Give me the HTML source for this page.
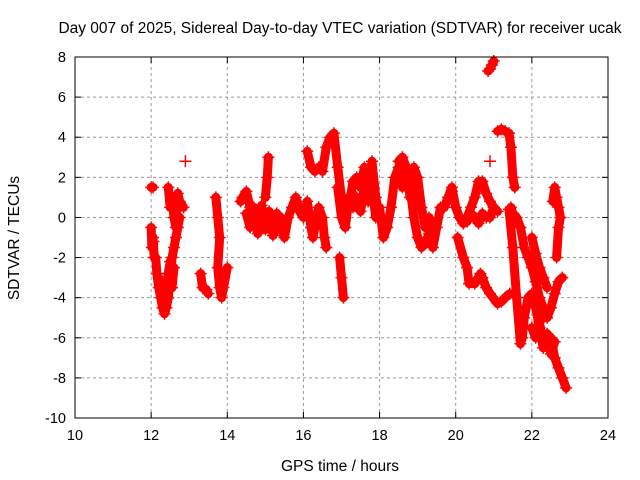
<!DOCTYPE html>
<html><head><meta charset="utf-8"><style>
body{margin:0;background:#fff;}
svg{display:block;font-family:"Liberation Sans",sans-serif;}
</style></head><body>
<svg id="chart" width="640" height="480">
<rect width="640" height="480" fill="#fff"/>
<text x="340" y="33" text-anchor="middle" font-size="15.5">Day 007 of 2025, Sidereal Day-to-day VTEC variation (SDTVAR) for receiver ucak</text>
<text x="340" y="471" text-anchor="middle" font-size="15.5">GPS time / hours</text>
<text transform="translate(19,238) rotate(-90)" text-anchor="middle" font-size="15.5">SDTVAR / TECUs</text>
<g id="grid"></g><g id="ticks"></g><g id="marks"></g>
<rect x="75" y="57" width="533" height="361" fill="none" stroke="#000"/>
</svg>
<script>
const xTicks=[10,12,14,16,18,20,22,24];
const yTicks=[-10,-8,-6,-4,-2,0,2,4,6,8];
// tracks: times and values
const t1=[12.0,12.02,12.05,12.08,12.06];
const v1=[-0.5,-1.5,-1.0,-2.0,-1.2];
const t1b=[12.0,12.05];
const v1b=[1.5,1.5];
const t2=[12.12,12.15,12.2,12.25,12.3,12.35,12.4,12.45,12.5,12.55,12.6,12.65,12.7,12.75];
const v2=[-2.0,-2.8,-3.5,-4.0,-4.5,-4.8,-4.5,-4.0,-3.0,-2.0,-1.5,-1.0,-0.5,0.0];
const t2c=[12.2,12.25,12.3,12.35,12.4,12.45,12.5,12.55,12.6];
const v2c=[-3.0,-3.3,-3.8,-4.2,-3.5,-2.8,-2.2,-3.5,-2.5];
const t2b=[12.45,12.5,12.55,12.6,12.65,12.7,12.75,12.85];
const v2b=[1.5,0.5,1.0,0.0,-0.5,1.2,0.8,0.5];
const t3=[13.3,13.35,13.45,13.5];
const v3=[-2.8,-3.5,-3.6,-3.8];
const t4=[13.7,13.75,13.8,13.75,13.8,13.85,13.9,14.0];
const v4=[1.0,0.0,-1.0,-2.5,-3.5,-4.0,-3.5,-2.5];
const t5=[14.35,14.4,14.5,14.6,14.7,14.8,14.9,15.0,15.1,15.2,15.3,15.4,15.5,15.6,15.7,15.8,15.9,16.0,16.1,16.2,16.25,16.3,16.4,16.5,16.55,16.6];
const v5=[0.8,1.0,1.3,0.5,-0.3,0.0,-0.5,0.0,-0.5,-0.3,0.2,-0.5,-1.0,0.0,0.5,1.0,0.3,0.0,0.8,-0.5,-1.0,-0.5,0.5,0.0,-1.0,-1.5];
const t5c=[14.5,14.6,14.7,14.8,14.9,15.0,15.1,15.2,15.3,15.4];
const v5c=[0.2,-0.5,0.5,-0.8,0.6,-0.6,0.3,-0.9,-0.2,0.0];
const t5b=[15.0,15.05,15.08];
const v5b=[1.0,2.0,3.0];
const t6=[16.1,16.2,16.3,16.4,16.5,16.6,16.7,16.8,16.9,17.0,17.1,17.2,17.3,17.4,17.5,17.6,17.7,17.8,17.9,18.0,18.1,18.2,18.3,18.4,18.5,18.6,18.7,18.8,18.9,19.0,19.1,19.2,19.3,19.4,19.5,19.6,19.7,19.8,19.9,20.0,20.1,20.2,20.3,20.4,20.5,20.6,20.7,20.8,20.9,21.0,21.1];
const v6=[3.3,2.5,2.3,2.5,2.3,3.5,4.0,4.2,2.5,1.0,0.5,0.5,1.8,2.0,1.5,2.5,2.0,1.5,0.0,0.5,-1.0,-0.5,0.5,2.0,2.5,1.5,2.0,1.5,0.0,-1.0,-1.5,-1.3,-0.8,-1.5,-0.5,0.5,0.5,1.0,1.5,0.5,0.0,-0.3,0.0,0.5,1.0,1.8,1.8,1.2,0.8,0.5,0.3];
const t6d=[16.9,17.0,17.1,17.2,17.3,17.4,17.5,17.6,17.7,17.8,17.9,18.0];
const v6d=[1.5,0.0,-0.5,1.0,0.5,1.0,0.3,1.5,0.8,2.8,1.0,0.0];
const t6b=[16.95,17.0,17.05];
const v6b=[-2.0,-3.0,-4.0];
const t6c=[18.5,18.6,18.7,18.8,18.9,19.0,19.1,19.2,19.3,19.4];
const v6c=[2.8,3.0,2.5,1.0,2.5,2.0,0.5,-0.5,0.0,-0.5];
const t7=[20.3,20.4,20.5,20.6,20.7,20.8,20.9,21.0];
const v7=[-0.2,0.2,0.0,-0.3,0.2,0.0,0.0,0.5];
const t8=[20.05,20.2,20.3,20.35,20.5,20.65,20.7,20.8,20.9,21.1,21.2,21.3,21.42];
const v8=[-1.0,-2.0,-2.5,-3.3,-3.3,-2.8,-3.0,-3.5,-3.8,-4.3,-4.2,-4.0,-3.8];
const t9=[21.4,21.5,21.6,21.7,21.75,21.8,21.9,22.0,22.1,22.2,22.3,22.4,22.5,22.6,22.7,22.8,22.9];
const v9=[0.4,-1.5,-4.0,-6.3,-6.0,-5.0,-4.0,-3.8,-4.5,-5.5,-6.5,-6.3,-6.0,-7.0,-7.5,-8.0,-8.5];
const t10=[20.85,20.9,20.95,21.0];
const v10=[7.3,7.4,7.6,7.8];
const t11=[21.1,21.2,21.3,21.4,21.45,21.5,21.55];
const v11=[4.3,4.4,4.3,4.2,3.5,2.0,1.5];
const t12=[21.45,21.5,21.6,21.7,21.8,21.9,22.0,22.1,22.2,22.3,22.4,22.5,22.6,22.7,22.8];
const v12=[0.5,0.2,0.0,-0.5,-1.5,-2.0,-2.5,-3.2,-4.0,-4.5,-5.0,-4.5,-3.8,-3.2,-3.0];
const t13=[22.0,22.1,22.2,22.3,22.4];
const v13=[-1.0,-1.8,-2.5,-3.0,-3.5];
const t13b=[22.0,22.1,22.2,22.3,22.4,22.5,22.6];
const v13b=[-5.5,-6.0,-5.2,-6.5,-5.8,-6.8,-6.2];
const t14=[22.55,22.6,22.65,22.7,22.75,22.7,22.65];
const v14=[0.8,1.5,1.0,0.5,0.0,-0.5,-2.0];
const tracks=[[t1,v1],[t1b,v1b],[t2,v2],[t2c,v2c],[t2b,v2b],[t3,v3],[t4,v4],[t5,v5],[t5c,v5c],[t5b,v5b],[t6,v6],[t6d,v6d],[t6b,v6b],[t6c,v6c],[t7,v7],[t8,v8],[t9,v9],[t10,v10],[t11,v11],[t12,v12],[t13,v13],[t13b,v13b],[t14,v14]];
const singleT=[12.9,20.9,19.9];
const singleV=[2.8,2.8,1.3];

const X0=75,X1=608,Y0=418,Y1=57;
const xs=t=>X0+(t-10)/14*(X1-X0);
const ys=v=>Y0-(v+10)/18*(Y0-Y1);
const NS='http://www.w3.org/2000/svg';
const grid=document.getElementById('grid'),ticks=document.getElementById('ticks'),marks=document.getElementById('marks');
function mk(tag,attrs,parent){const e=document.createElementNS(NS,tag);for(const k in attrs)e.setAttribute(k,attrs[k]);parent.appendChild(e);return e;}
xTicks.forEach(t=>{
  const x=xs(t);
  if(t>10&&t<24){const g=mk('line',{x1:x,x2:x,y1:Y0,y2:Y1,stroke:'#999','stroke-dasharray':'3,3'},grid);
  
  }
  mk('line',{x1:x,x2:x,y1:Y0,y2:Y0-6,stroke:'#000'},ticks);
  mk('line',{x1:x,x2:x,y1:Y1,y2:Y1+6,stroke:'#000'},ticks);
  const l=mk('text',{x:x,y:Y0+22,'text-anchor':'middle','font-size':'14.5'},ticks);l.textContent=t;
  
  
});
yTicks.forEach(v=>{
  const y=ys(v);
  if(v>-10&&v<8){const g=mk('line',{x1:X0,x2:X1,y1:y,y2:y,stroke:'#999','stroke-dasharray':'3,3'},grid);
  
  }
  mk('line',{x1:X0,x2:X0+6,y1:y,y2:y,stroke:'#000'},ticks);
  mk('line',{x1:X1,x2:X1-6,y1:y,y2:y,stroke:'#000'},ticks);
  const l=mk('text',{x:X0-9,y:y+5,'text-anchor':'end','font-size':'14.5'},ticks);l.textContent=v;
  
  
});
function plus(t,v){
  const x=xs(t),y=ys(v);
  const p=mk('path',{d:`M${x-6},${y}h12M${x},${y-6}v12`,stroke:'#f00','stroke-width':'1.5'},marks);
  
  
}
tracks.forEach(([T,V])=>{
  const pts=T.map((t,i)=>xs(t)+','+ys(V[i])).join(' ');
  const pl=mk('polyline',{points:pts,fill:'none',stroke:'#f00','stroke-width':'9','stroke-linejoin':'round','stroke-linecap':'round'},marks);
  
  
  T.forEach((t,i)=>plus(t,V[i]));
});
singleT.forEach((t,i)=>plus(t,singleV[i]));
</script>
</body></html>
